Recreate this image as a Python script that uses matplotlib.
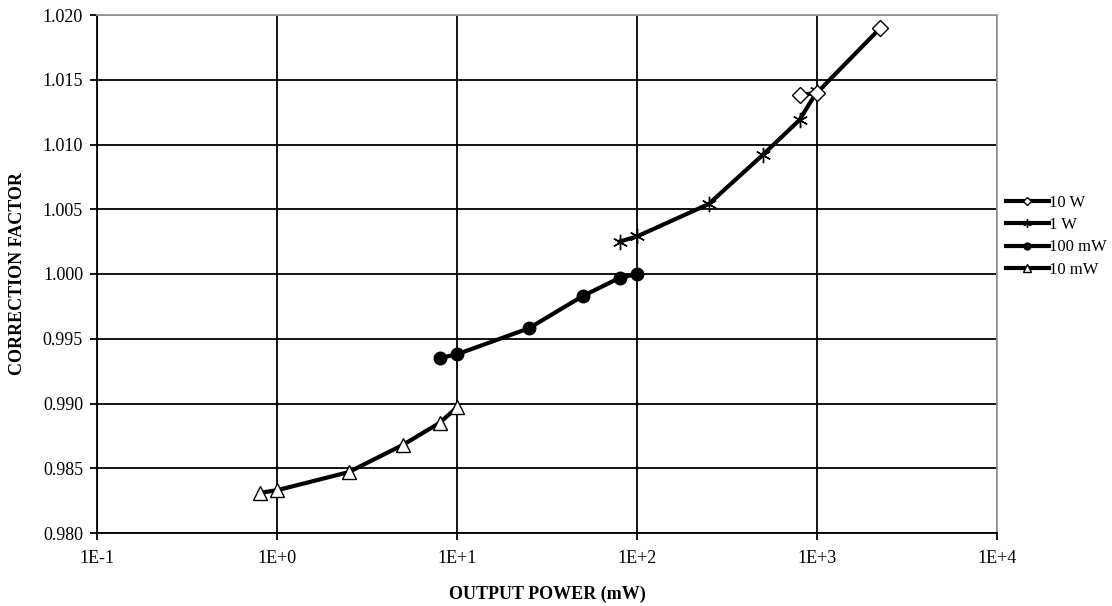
import matplotlib
matplotlib.use("Agg")
import matplotlib.pyplot as plt
from matplotlib.ticker import FixedLocator, FuncFormatter, NullLocator

plt.rcParams['font.family'] = ['Liberation Serif', 'DejaVu Serif']

# Data
p_10w = [800, 1000, 2250]
cf_10w = [1.0138, 1.0140, 1.0190]

p_1w = [80, 100, 250, 500, 800, 1000]
cf_1w = [1.0025, 1.0029, 1.0054, 1.0092, 1.0119, 1.0141]

p_100mw = [8, 10, 25, 50, 80, 100]
cf_100mw = [0.9935, 0.9938, 0.9958, 0.9983, 0.9997, 1.0000]

p_10mw = [0.8, 1.0, 2.5, 5, 8, 10]
cf_10mw = [0.9831, 0.9833, 0.9847, 0.9868, 0.9885, 0.9897]

x_ticks = [0.1, 1, 10, 100, 1000, 10000]
x_tick_labels = ["1E-1", "1E+0", "1E+1", "1E+2", "1E+3", "1E+4"]
y_ticks = [0.980, 0.985, 0.990, 0.995, 1.000, 1.005, 1.010, 1.015, 1.020]

fig = plt.figure(figsize=(11.12, 6.06), dpi=100)
ax = fig.add_axes([97/1112, 1 - 533/606, 900/1112, 518/606])
ax.set_xscale('log')
ax.set_xlim(0.1, 10000)
ax.set_ylim(0.980, 1.020)

ax.xaxis.set_major_locator(FixedLocator(x_ticks))
ax.xaxis.set_minor_locator(NullLocator())
ax.xaxis.set_major_formatter(FuncFormatter(lambda v, p: x_tick_labels[x_ticks.index(min(x_ticks, key=lambda t: abs(t - v)))]))
ax.yaxis.set_major_locator(FixedLocator(y_ticks))
ax.yaxis.set_major_formatter(FuncFormatter(lambda v, p: f"{v:.3f}"))

ax.grid(True, which='major', color='black', linewidth=1.3)
ax.set_axisbelow(True)
for s in ['top', 'right']:
    ax.spines[s].set_color('#999999')
    ax.spines[s].set_linewidth(1.3)
for s in ['left', 'bottom']:
    ax.spines[s].set_color('black')
    ax.spines[s].set_linewidth(1.3)
ax.tick_params(axis='both', direction='out', length=5, width=1.3, labelsize=13, pad=5, colors='black')
ax.tick_params(axis='x', pad=7)

lw = 3
ax.plot(p_10w, cf_10w, color='black', lw=lw, marker='D', markersize=8,
        markerfacecolor='white', markeredgecolor='black', markeredgewidth=1, label='10 W', zorder=5)
ax.plot(p_1w, cf_1w, color='black', lw=lw, marker=(6, 2, 0), markersize=11,
        markeredgewidth=1, label='1 W', zorder=4)
ax.plot(p_100mw, cf_100mw, color='black', lw=lw, marker='o', markersize=9,
        markerfacecolor='black', label='100 mW', zorder=4)
ax.plot(p_10mw, cf_10mw, color='black', lw=lw, marker='^', markersize=10,
        markerfacecolor='white', markeredgecolor='black', markeredgewidth=1, label='10 mW', zorder=3)

leg = fig.legend(loc='upper left', bbox_to_anchor=(999/1112, 1 - 188/606), frameon=False,
                 fontsize=12, handlelength=2.6, handletextpad=0.0, labelspacing=0.38,
                 markerscale=0.55, borderaxespad=0)

ax.set_xlabel("OUTPUT POWER (mW)", fontsize=13, fontweight='bold', labelpad=14)
ax.set_ylabel("CORRECTION FACTOR", fontsize=13, fontweight='bold', labelpad=12)

fig.savefig("out.png", dpi=100)
